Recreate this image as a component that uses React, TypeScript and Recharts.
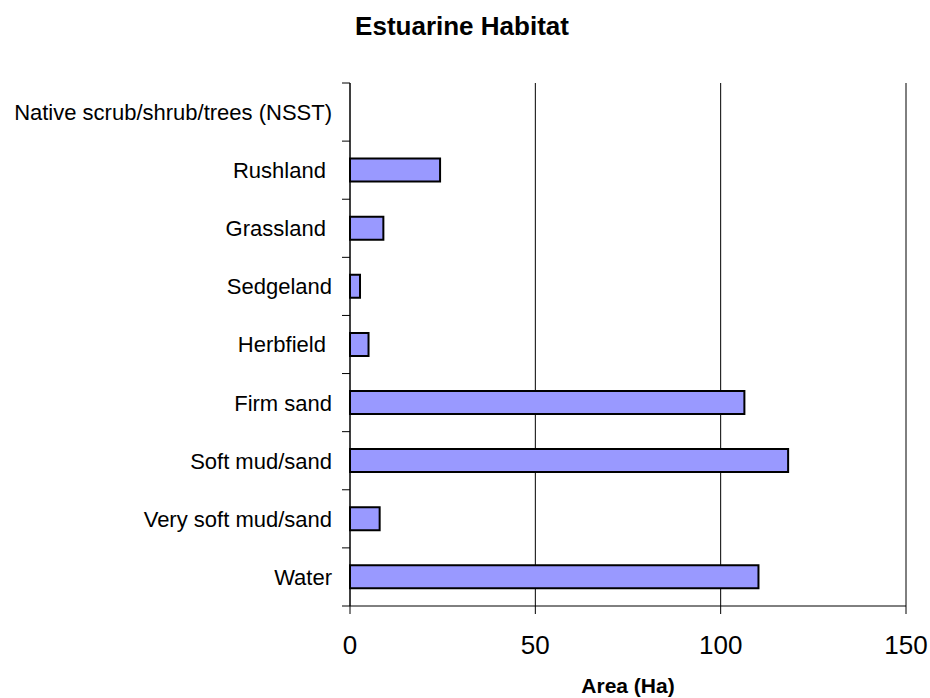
import React from 'react';
import { BarChart, Bar, XAxis, YAxis, CartesianGrid } from 'recharts';

// Habitat categories, top to bottom as drawn
const habitats = [
  'Native scrub/shrub/trees (NSST)',
  'Rushland\u00A0',
  'Grassland\u00A0',
  'Sedgeland',
  'Herbfield\u00A0',
  'Firm sand',
  'Soft mud/sand',
  'Very soft mud/sand',
  'Water',
];

// Area in hectares
const areaHa = [0, 24.3, 9, 2.7, 5, 106.4, 118.2, 8, 110.2];

const xTicks = [0, 50, 100, 150];

const data = habitats.map((name, i) => ({ name, area: areaHa[i] }));

const FONT = '"Liberation Sans", Arial, Helvetica, sans-serif';
const WIDTH = 930;
const HEIGHT = 698;
const PLOT_TOP = 83;
const PLOT_LEFT = 350;
const PLOT_BOTTOM = 606;
const BAND_HALF = (PLOT_BOTTOM - PLOT_TOP) / habitats.length / 2;

// Excel-style category tick: label at the band centre, tick marks on band edges
const CategoryTick = (props: any) => {
  const { x, y, payload, index, visibleTicksCount } = props;
  const isLast = index === visibleTicksCount - 1;
  return (
    <g>
      <line x1={PLOT_LEFT - 8} x2={PLOT_LEFT} y1={y - BAND_HALF} y2={y - BAND_HALF} stroke="#000" />
      {isLast && (
        <line x1={PLOT_LEFT - 8} x2={PLOT_LEFT} y1={y + BAND_HALF} y2={y + BAND_HALF} stroke="#000" />
      )}
      <text x={x} y={y} dy="0.36em" textAnchor="end" fontSize={22} fill="#000" fontFamily={FONT}>
        {payload.value}
      </text>
    </g>
  );
};

const App: React.FC = () => {
  return (
    <div style={{ position: 'absolute', left: 0, top: 0, width: WIDTH, height: HEIGHT, background: '#fff', fontFamily: FONT }}>
      <div
        style={{
          position: 'absolute',
          left: 0,
          top: 13,
          width: 924,
          textAlign: 'center',
          fontSize: 26,
          lineHeight: '26px',
          fontWeight: 'bold',
          color: '#000',
        }}
      >
        Estuarine Habitat
      </div>
      <BarChart
        width={WIDTH}
        height={HEIGHT}
        data={data}
        layout="vertical"
        margin={{ top: PLOT_TOP, right: WIDTH - 906, bottom: 0, left: 5 }}
        barCategoryGap="30%"
      >
        <CartesianGrid horizontal={false} stroke="#000" strokeWidth={1} />
        <XAxis
          type="number"
          domain={[0, 150]}
          ticks={xTicks}
          height={HEIGHT - PLOT_BOTTOM}
          axisLine={{ stroke: '#000' }}
          tickLine={{ stroke: '#000' }}
          tickSize={8}
          tickMargin={22}
          tick={{ fontSize: 26, fill: '#000', fontFamily: FONT }}
          label={{
            value: 'Area (Ha)',
            position: 'insideBottom',
            offset: 5,
            style: { fontSize: 21, fontWeight: 'bold', fill: '#000', fontFamily: FONT },
          }}
        />
        <XAxis
          xAxisId="top"
          orientation="top"
          type="number"
          domain={[0, 150]}
          height={0}
          tick={false}
          tickLine={false}
          axisLine={{ stroke: '#808080' }}
        />
        <YAxis
          type="category"
          dataKey="name"
          width={PLOT_LEFT - 5}
          axisLine={{ stroke: '#000' }}
          tickLine={false}
          tickSize={8}
          tickMargin={10}
          interval={0}
          tick={<CategoryTick />}
        />
        <Bar dataKey="area" fill="#9999FF" stroke="#000" strokeWidth={2} isAnimationActive={false} />
      </BarChart>
    </div>
  );
};

export default App;
